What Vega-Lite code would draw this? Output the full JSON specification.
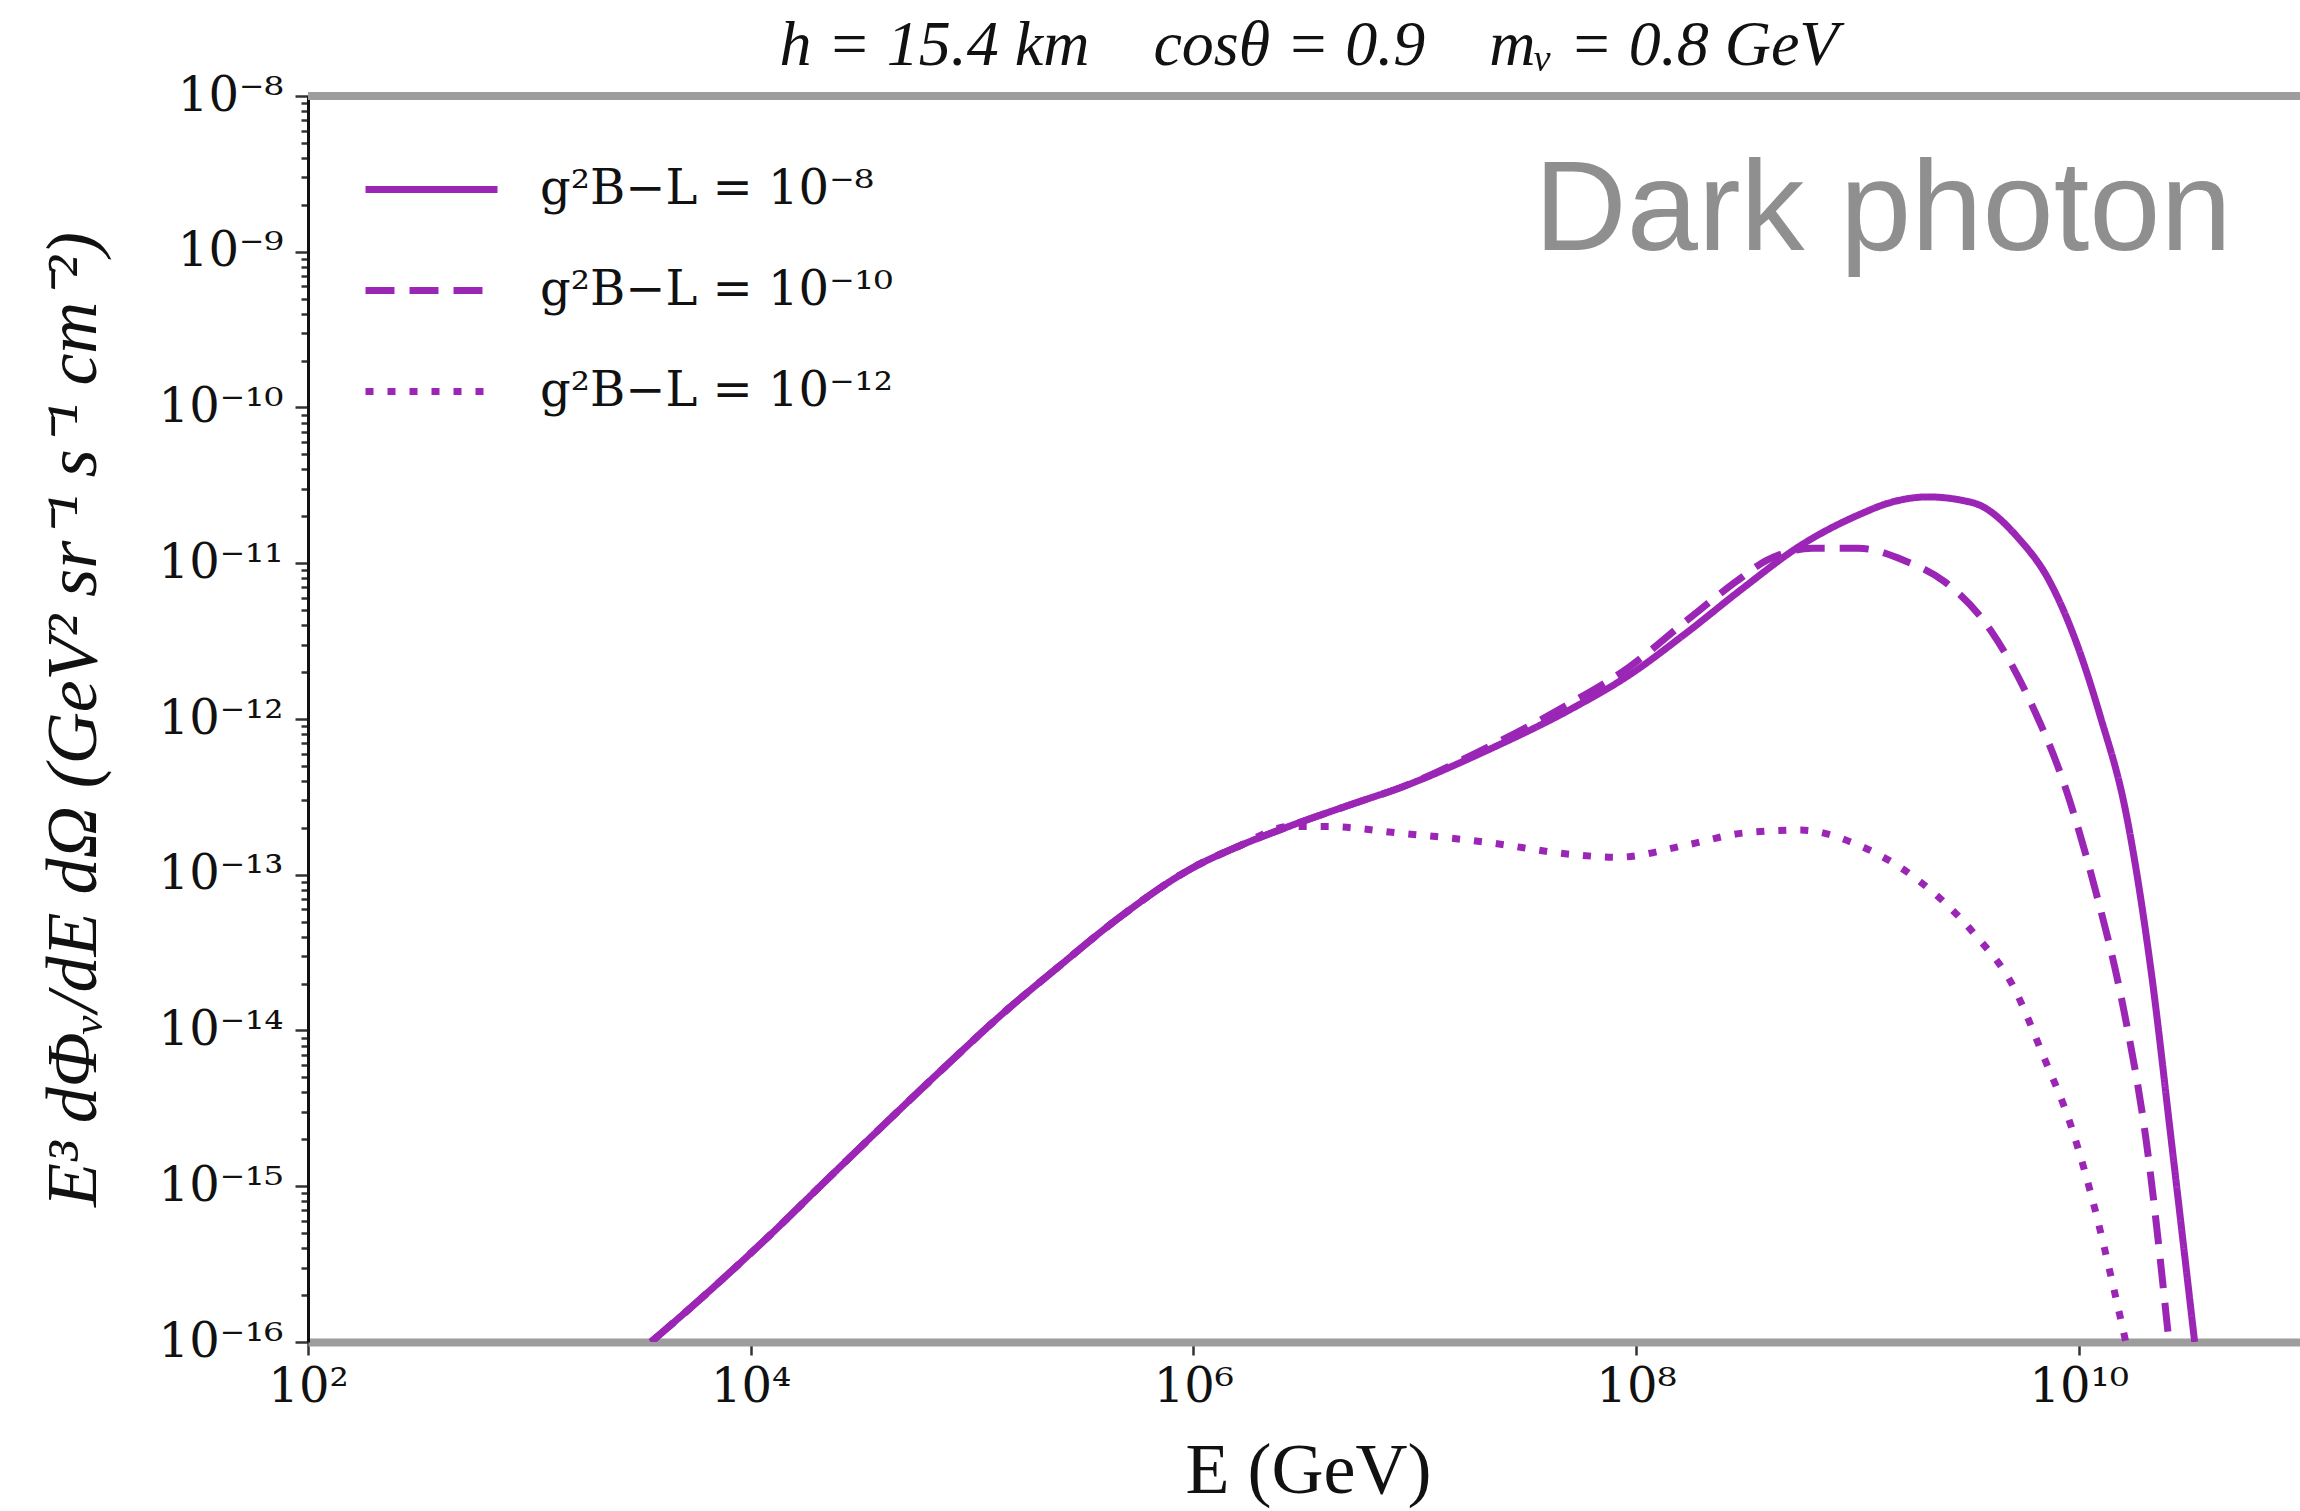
{
  "$schema": "https://vega.github.io/schema/vega-lite/v6.json",
  "autosize": {"type": "none"},
  "padding": {"left": 308, "top": 96, "right": 0, "bottom": 169},
  "width": 1992,
  "height": 1246,
  "background": "white",
  "title": {
    "text": "h = 15.4 km\u00a0\u00a0\u00a0\u00a0cosθ = 0.9\u00a0\u00a0\u00a0\u00a0mᵥ = 0.8 GeV",
    "font": "Liberation Serif",
    "fontSize": 64,
    "fontStyle": "italic",
    "fontWeight": "normal",
    "color": "#111111",
    "anchor": "middle",
    "frame": "group",
    "offset": 29,
    "baseline": "alphabetic",
    "dx": 5,
    "dy": 86
  },
  "config": {"view": {"stroke": null}},
  "datasets": {
    "curves": [
      {"series": "g²B−L = 10⁻⁸", "E": 3548, "flux": 1e-16},
      {"series": "g²B−L = 10⁻⁸", "E": 6310, "flux": 2.042e-16},
      {"series": "g²B−L = 10⁻⁸", "E": 12470, "flux": 4.989e-16},
      {"series": "g²B−L = 10⁻⁸", "E": 22390, "flux": 1.122e-15},
      {"series": "g²B−L = 10⁻⁸", "E": 41300, "flux": 2.594e-15},
      {"series": "g²B−L = 10⁻⁸", "E": 75860, "flux": 5.888e-15},
      {"series": "g²B−L = 10⁻⁸", "E": 136800, "flux": 1.274e-14},
      {"series": "g²B−L = 10⁻⁸", "E": 251200, "flux": 2.630e-14},
      {"series": "g²B−L = 10⁻⁸", "E": 452900, "flux": 5.188e-14},
      {"series": "g²B−L = 10⁻⁸", "E": 1000000, "flux": 1.114e-13},
      {"series": "g²B−L = 10⁻⁸", "E": 1585000, "flux": 1.514e-13},
      {"series": "g²B−L = 10⁻⁸", "E": 2723000, "flux": 2.051e-13},
      {"series": "g²B−L = 10⁻⁸", "E": 5012000, "flux": 2.786e-13},
      {"series": "g²B−L = 10⁻⁸", "E": 9016000, "flux": 3.715e-13},
      {"series": "g²B−L = 10⁻⁸", "E": 20750000, "flux": 6.194e-13},
      {"series": "g²B−L = 10⁻⁸", "E": 50930000, "flux": 1.159e-12},
      {"series": "g²B−L = 10⁻⁸", "E": 92470000, "flux": 1.901e-12},
      {"series": "g²B−L = 10⁻⁸", "E": 168300000, "flux": 3.556e-12},
      {"series": "g²B−L = 10⁻⁸", "E": 306200000, "flux": 6.966e-12},
      {"series": "g²B−L = 10⁻⁸", "E": 555900000, "flux": 1.303e-11},
      {"series": "g²B−L = 10⁻⁸", "E": 1012000000, "flux": 2.042e-11},
      {"series": "g²B−L = 10⁻⁸", "E": 1413000000, "flux": 2.455e-11},
      {"series": "g²B−L = 10⁻⁸", "E": 2075000000, "flux": 2.667e-11},
      {"series": "g²B−L = 10⁻⁸", "E": 3350000000, "flux": 2.438e-11},
      {"series": "g²B−L = 10⁻⁸", "E": 5395000000, "flux": 1.426e-11},
      {"series": "g²B−L = 10⁻⁸", "E": 7278000000, "flux": 7.962e-12},
      {"series": "g²B−L = 10⁻⁸", "E": 9528000000, "flux": 3.396e-12},
      {"series": "g²B−L = 10⁻⁸", "E": 12470000000, "flux": 1.062e-12},
      {"series": "g²B−L = 10⁻⁸", "E": 16330000000, "flux": 2.529e-13},
      {"series": "g²B−L = 10⁻⁸", "E": 21380000000, "flux": 2.254e-14},
      {"series": "g²B−L = 10⁻⁸", "E": 26360000000, "flux": 1.837e-15},
      {"series": "g²B−L = 10⁻⁸", "E": 33420000000, "flux": 1e-16},

      {"series": "g²B−L = 10⁻¹⁰", "E": 3548, "flux": 1e-16},
      {"series": "g²B−L = 10⁻¹⁰", "E": 6310, "flux": 2.042e-16},
      {"series": "g²B−L = 10⁻¹⁰", "E": 12470, "flux": 4.989e-16},
      {"series": "g²B−L = 10⁻¹⁰", "E": 22390, "flux": 1.122e-15},
      {"series": "g²B−L = 10⁻¹⁰", "E": 41300, "flux": 2.594e-15},
      {"series": "g²B−L = 10⁻¹⁰", "E": 75860, "flux": 5.888e-15},
      {"series": "g²B−L = 10⁻¹⁰", "E": 136800, "flux": 1.274e-14},
      {"series": "g²B−L = 10⁻¹⁰", "E": 251200, "flux": 2.630e-14},
      {"series": "g²B−L = 10⁻¹⁰", "E": 452900, "flux": 5.188e-14},
      {"series": "g²B−L = 10⁻¹⁰", "E": 1000000, "flux": 1.114e-13},
      {"series": "g²B−L = 10⁻¹⁰", "E": 1585000, "flux": 1.514e-13},
      {"series": "g²B−L = 10⁻¹⁰", "E": 2723000, "flux": 2.051e-13},
      {"series": "g²B−L = 10⁻¹⁰", "E": 5012000, "flux": 2.786e-13},
      {"series": "g²B−L = 10⁻¹⁰", "E": 9016000, "flux": 3.715e-13},
      {"series": "g²B−L = 10⁻¹⁰", "E": 20750000, "flux": 6.457e-13},
      {"series": "g²B−L = 10⁻¹⁰", "E": 50930000, "flux": 1.271e-12},
      {"series": "g²B−L = 10⁻¹⁰", "E": 92470000, "flux": 2.138e-12},
      {"series": "g²B−L = 10⁻¹⁰", "E": 168300000, "flux": 4.256e-12},
      {"series": "g²B−L = 10⁻¹⁰", "E": 281800000, "flux": 7.586e-12},
      {"series": "g²B−L = 10⁻¹⁰", "E": 389000000, "flux": 1.042e-11},
      {"series": "g²B−L = 10⁻¹⁰", "E": 626600000, "flux": 1.247e-11},
      {"series": "g²B−L = 10⁻¹⁰", "E": 1012000000, "flux": 1.247e-11},
      {"series": "g²B−L = 10⁻¹⁰", "E": 1629000000, "flux": 1.042e-11},
      {"series": "g²B−L = 10⁻¹⁰", "E": 2477000000, "flux": 7.621e-12},
      {"series": "g²B−L = 10⁻¹⁰", "E": 4000000000, "flux": 3.715e-12},
      {"series": "g²B−L = 10⁻¹⁰", "E": 6081000000, "flux": 1.271e-12},
      {"series": "g²B−L = 10⁻¹⁰", "E": 8710000000, "flux": 3.622e-13},
      {"series": "g²B−L = 10⁻¹⁰", "E": 11720000000, "flux": 8.650e-14},
      {"series": "g²B−L = 10⁻¹⁰", "E": 15850000000, "flux": 1.442e-14},
      {"series": "g²B−L = 10⁻¹⁰", "E": 20140000000, "flux": 2.009e-15},
      {"series": "g²B−L = 10⁻¹⁰", "E": 25590000000, "flux": 1e-16},

      {"series": "g²B−L = 10⁻¹²", "E": 3548, "flux": 1e-16},
      {"series": "g²B−L = 10⁻¹²", "E": 6310, "flux": 2.042e-16},
      {"series": "g²B−L = 10⁻¹²", "E": 12470, "flux": 4.989e-16},
      {"series": "g²B−L = 10⁻¹²", "E": 22390, "flux": 1.122e-15},
      {"series": "g²B−L = 10⁻¹²", "E": 41300, "flux": 2.594e-15},
      {"series": "g²B−L = 10⁻¹²", "E": 75860, "flux": 5.888e-15},
      {"series": "g²B−L = 10⁻¹²", "E": 136800, "flux": 1.274e-14},
      {"series": "g²B−L = 10⁻¹²", "E": 251200, "flux": 2.630e-14},
      {"series": "g²B−L = 10⁻¹²", "E": 452900, "flux": 5.188e-14},
      {"series": "g²B−L = 10⁻¹²", "E": 1000000, "flux": 1.114e-13},
      {"series": "g²B−L = 10⁻¹²", "E": 1585000, "flux": 1.514e-13},
      {"series": "g²B−L = 10⁻¹²", "E": 2723000, "flux": 2.042e-13},
      {"series": "g²B−L = 10⁻¹²", "E": 3981000, "flux": 2.042e-13},
      {"series": "g²B−L = 10⁻¹²", "E": 8472000, "flux": 1.854e-13},
      {"series": "g²B−L = 10⁻¹²", "E": 20750000, "flux": 1.622e-13},
      {"series": "g²B−L = 10⁻¹²", "E": 50930000, "flux": 1.352e-13},
      {"series": "g²B−L = 10⁻¹²", "E": 82040000, "flux": 1.294e-13},
      {"series": "g²B−L = 10⁻¹²", "E": 168300000, "flux": 1.549e-13},
      {"series": "g²B−L = 10⁻¹²", "E": 306200000, "flux": 1.854e-13},
      {"series": "g²B−L = 10⁻¹²", "E": 555900000, "flux": 1.936e-13},
      {"series": "g²B−L = 10⁻¹²", "E": 1012000000, "flux": 1.549e-13},
      {"series": "g²B−L = 10⁻¹²", "E": 1841000000, "flux": 9.462e-14},
      {"series": "g²B−L = 10⁻¹²", "E": 3350000000, "flux": 4.227e-14},
      {"series": "g²B−L = 10⁻¹²", "E": 5093000000, "flux": 1.888e-14},
      {"series": "g²B−L = 10⁻¹²", "E": 6871000000, "flux": 7.047e-15},
      {"series": "g²B−L = 10⁻¹²", "E": 9268000000, "flux": 2.404e-15},
      {"series": "g²B−L = 10⁻¹²", "E": 12110000000, "flux": 6.281e-16},
      {"series": "g²B−L = 10⁻¹²", "E": 14060000000, "flux": 2.564e-16},
      {"series": "g²B−L = 10⁻¹²", "E": 16330000000, "flux": 1e-16}
    ],
    "note": [
      {"E": 34700000, "flux": 1.03e-9, "label": "Dark photon"}
    ],
    "frame": [
      {"flux": 1e-8}
    ]
  },
  "layer": [
    {
      "data": {"name": "curves"},
      "mark": {"type": "line", "color": "#9b26b6", "strokeWidth": 7, "clip": true, "interpolate": "monotone", "strokeCap": "butt"},
      "encoding": {
        "x": {
          "field": "E", "type": "quantitative",
          "scale": {"type": "log", "domain": [100, 98400000000]},
          "axis": {
            "values": [100, 10000, 1000000, 100000000, 10000000000],
            "labelExpr": "['','','10²','10³','10⁴','10⁵','10⁶','10⁷','10⁸','10⁹','10¹⁰','10¹¹'][round(log(datum.value)/LN10)]",
            "labelFont": "DejaVu Serif", "labelFontSize": 48, "labelColor": "#111111",
            "labelPadding": 8, "labelFlush": false, "labelOverlap": false,
            "tickSize": 13, "tickWidth": 2.5, "tickColor": "#333333",
            "domainColor": "#9d9d9d", "domainWidth": 8, "grid": false,
            "title": "E (GeV)", "titleFont": "Liberation Serif", "titleFontSize": 72,
            "titleFontWeight": "normal", "titleColor": "#111111",
            "titleX": 1000, "titleY": 150, "titleAlign": "center", "titleBaseline": "alphabetic"
          }
        },
        "y": {
          "field": "flux", "type": "quantitative",
          "scale": {"type": "log", "domain": [1e-16, 1e-8]},
          "axis": {
            "values": [1e-16, 2e-16, 3e-16, 4e-16, 5e-16, 6e-16, 7e-16, 8e-16, 9e-16,
                       1e-15, 2e-15, 3e-15, 4e-15, 5e-15, 6e-15, 7e-15, 8e-15, 9e-15,
                       1e-14, 2e-14, 3e-14, 4e-14, 5e-14, 6e-14, 7e-14, 8e-14, 9e-14,
                       1e-13, 2e-13, 3e-13, 4e-13, 5e-13, 6e-13, 7e-13, 8e-13, 9e-13,
                       1e-12, 2e-12, 3e-12, 4e-12, 5e-12, 6e-12, 7e-12, 8e-12, 9e-12,
                       1e-11, 2e-11, 3e-11, 4e-11, 5e-11, 6e-11, 7e-11, 8e-11, 9e-11,
                       1e-10, 2e-10, 3e-10, 4e-10, 5e-10, 6e-10, 7e-10, 8e-10, 9e-10,
                       1e-9, 2e-9, 3e-9, 4e-9, 5e-9, 6e-9, 7e-9, 8e-9, 9e-9, 1e-8],
            "labelExpr": "abs(datum.value / pow(10, round(log(datum.value)/LN10)) - 1) < 0.001 ? ['10⁻¹⁶','10⁻¹⁵','10⁻¹⁴','10⁻¹³','10⁻¹²','10⁻¹¹','10⁻¹⁰','10⁻⁹','10⁻⁸'][round(log(datum.value)/LN10) + 16] : ''",
            "labelFont": "DejaVu Serif", "labelFontSize": 48, "labelColor": "#111111",
            "labelPadding": 12, "labelFlush": false, "labelOverlap": false, "labelBaseline": "middle",
            "tickSize": {"condition": {"test": "abs(datum.value / pow(10, round(log(datum.value)/LN10)) - 1) < 0.001", "value": 13}, "value": 7},
            "tickWidth": 2.5, "tickColor": "#333333",
            "domainColor": "#111111", "domainWidth": 3, "grid": false,
            "title": "E³ dΦᵥ/dE dΩ  (GeV² sr⁻¹ s⁻¹ cm⁻²)",
            "titleFont": "Liberation Serif", "titleFontSize": 72, "titleFontStyle": "italic",
            "titleFontWeight": "normal", "titleColor": "#111111",
            "titleAngle": -90, "titleX": -235, "titleY": 623, "titleAlign": "center", "titleBaseline": "middle"
          }
        },
        "detail": {"field": "series", "type": "nominal"},
        "strokeDash": {
          "field": "series", "type": "nominal",
          "scale": {"domain": ["g²B−L = 10⁻⁸", "g²B−L = 10⁻¹⁰", "g²B−L = 10⁻¹²"], "range": [[1, 0], [29, 15], [8, 14]]},
          "legend": {
            "orient": "none", "legendX": 54, "legendY": 24, "title": null, "padding": 0,
            "symbolType": "stroke", "symbolSize": 17424, "symbolStrokeWidth": 7,
            "symbolStrokeColor": "#9b26b6",
            "labelFont": "DejaVu Serif", "labelFontSize": 48, "labelColor": "#111111",
            "labelOffset": 39, "labelLimit": 800, "rowPadding": 7
          }
        }
      }
    },
    {
      "data": {"name": "frame"},
      "mark": {"type": "rule", "color": "#9d9d9d", "strokeWidth": 8},
      "encoding": {
        "y": {"field": "flux", "type": "quantitative"}
      }
    },
    {
      "data": {"name": "note"},
      "mark": {"type": "text", "font": "Liberation Sans", "fontSize": 128, "color": "#8f8f8f", "align": "left", "baseline": "alphabetic"},
      "encoding": {
        "x": {"field": "E", "type": "quantitative"},
        "y": {"field": "flux", "type": "quantitative"},
        "text": {"field": "label"}
      }
    }
  ]
}
